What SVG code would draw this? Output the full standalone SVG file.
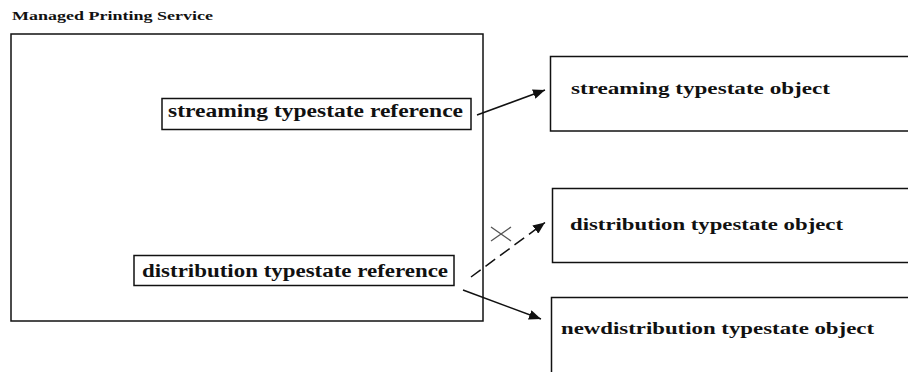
<svg xmlns="http://www.w3.org/2000/svg" width="908" height="372" viewBox="0 0 908 372">
<style>
text{font-family:"Liberation Serif","Times New Roman",serif;font-weight:bold;fill:#111}
.box{fill:#fff;stroke:#111;stroke-width:1.5}
.ln{stroke:#111;stroke-width:1.5;fill:none}
</style>
<defs>
<marker id="ah" viewBox="0 0 12 10" refX="12" refY="5" markerWidth="12" markerHeight="10" markerUnits="userSpaceOnUse" orient="auto">
<path d="M0,0 L12,5 L0,10 Z" fill="#111"/>
</marker>
</defs>
<text x="12" y="19.5" font-size="13.5" textLength="201" lengthAdjust="spacingAndGlyphs">Managed Printing Service</text>
<g id="service">
<rect class="box" x="11" y="34" width="472" height="287"/>
</g>
<g id="streaming-ref">
<rect class="box" x="162" y="98.5" width="309" height="31"/>
<text x="168" y="116.5" font-size="18" textLength="295" lengthAdjust="spacingAndGlyphs">streaming typestate reference</text>
</g>
<g id="distribution-ref">
<rect class="box" x="134" y="255.5" width="320" height="30"/>
<text x="142" y="277" font-size="18" textLength="306" lengthAdjust="spacingAndGlyphs">distribution typestate reference</text>
</g>
<g id="streaming-obj">
<rect class="box" x="550.5" y="56.5" width="370" height="74.5"/>
<text x="571" y="93.5" font-size="17" textLength="259" lengthAdjust="spacingAndGlyphs">streaming typestate object</text>
</g>
<g id="distribution-obj">
<rect class="box" x="552.5" y="188.5" width="370" height="74"/>
<text x="570" y="229.5" font-size="17" textLength="273" lengthAdjust="spacingAndGlyphs">distribution typestate object</text>
</g>
<g id="newdistribution-obj">
<rect class="box" x="551.5" y="297.5" width="370" height="90"/>
<text x="561" y="333.5" font-size="17" textLength="313" lengthAdjust="spacingAndGlyphs">newdistribution typestate object</text>
</g>
<g id="connectors">
<line class="ln" x1="477" y1="115" x2="545" y2="90" marker-end="url(#ah)"/>
<line class="ln" x1="471" y1="277" x2="545" y2="222.5" stroke-dasharray="12,6" stroke="#333" marker-end="url(#ah)"/>
<line class="ln" x1="463" y1="290" x2="541" y2="319" marker-end="url(#ah)"/>
<path d="M491,227 L511,241 M491,241 L511,227" stroke="#555" stroke-width="1.3" fill="none"/>
</g>
</svg>
